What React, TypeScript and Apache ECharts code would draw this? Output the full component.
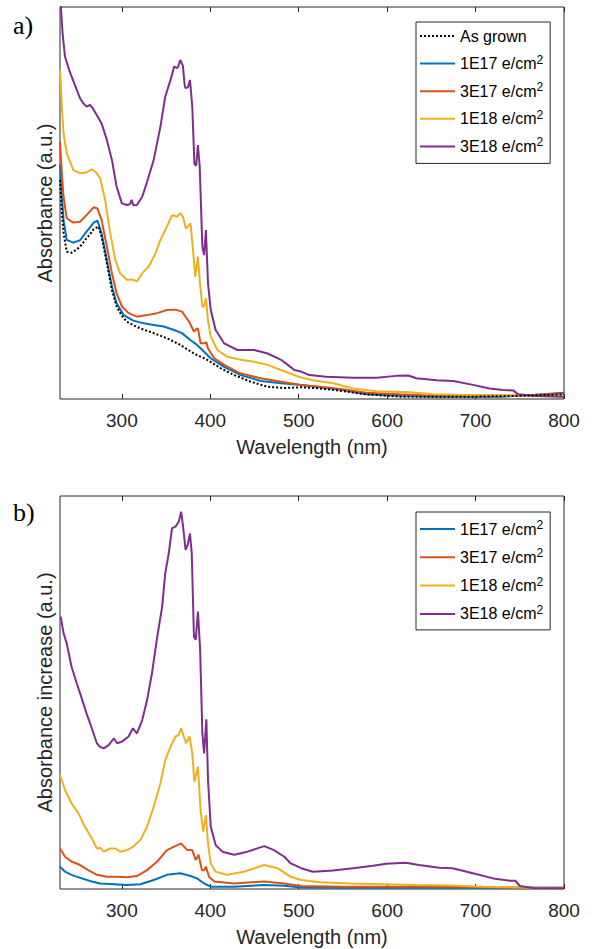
import React, { useEffect, useRef } from "react";
import * as echarts from "echarts";

// ---------- Data (wavelength nm, arbitrary absorbance units, 0..1 of plot height) ----------
const TICKS = [300, 400, 500, 600, 700, 800];
const NAMES = ["As grown", "1E17 e/cm2", "3E17 e/cm2", "1E18 e/cm2", "3E18 e/cm2"];
const COLORS = ["#000000", "#0072BD", "#D95319", "#EDB120", "#7E2F8E"];

// Panel a) Absorbance
const aAsGrown = [
  [230, 0.559], [232, 0.48], [234, 0.423], [237.6, 0.376], [243, 0.373], [248, 0.38], [252.7, 0.389], [256, 0.398],
  [260, 0.41], [264, 0.42], [268, 0.433], [273.6, 0.44], [277, 0.414], [283, 0.346], [288.7, 0.278], [294, 0.236],
  [300, 0.212], [305.7, 0.197], [313, 0.188], [321, 0.18], [336, 0.168], [351, 0.155], [366, 0.138],
  [381.5, 0.116], [396.6, 0.1], [412, 0.078], [427, 0.061], [446, 0.044], [465, 0.031], [484, 0.028],
  [502.7, 0.03], [524, 0.027], [550, 0.02], [576, 0.012], [614, 0.006], [650, 0.006], [700, 0.006],
  [750, 0.008], [800, 0.012]
];
const a1E17 = [
  [230, 0.597], [232, 0.52], [234, 0.457], [237.6, 0.406], [245, 0.399], [252.7, 0.405], [260, 0.427],
  [264, 0.438], [268, 0.45], [272.4, 0.455], [277, 0.423], [283, 0.355], [288.7, 0.287], [294, 0.244],
  [302, 0.214], [313, 0.2], [324.7, 0.193], [336, 0.189], [347.4, 0.185], [359, 0.176], [368, 0.168],
  [377.7, 0.15], [385, 0.138], [391, 0.125], [400.5, 0.104], [415.6, 0.082], [434.5, 0.061],
  [457, 0.046], [480, 0.04], [502.7, 0.036], [524, 0.03], [550, 0.023], [576.6, 0.012], [614, 0.008],
  [652, 0.006], [727.5, 0.006], [765, 0.01], [800, 0.016]
];
const a3E17 = [
  [230, 0.656], [232, 0.58], [234, 0.516], [237.6, 0.461], [245, 0.45], [252.7, 0.452], [260, 0.469],
  [268, 0.489], [272.4, 0.486], [277, 0.457], [283, 0.389], [288.7, 0.321], [294, 0.27], [300, 0.236],
  [307.6, 0.219], [317, 0.21], [328.5, 0.214], [339.8, 0.219], [351, 0.227], [360.7, 0.228],
  [368, 0.223], [376, 0.197], [381.5, 0.172], [384, 0.178], [386, 0.18], [389, 0.142], [393.6, 0.142],
  [395.5, 0.145], [397.4, 0.129], [404.5, 0.104], [415.6, 0.087], [434.5, 0.065], [457, 0.053],
  [480, 0.044], [502.7, 0.036], [524, 0.031], [550, 0.025], [576.6, 0.016], [614, 0.012],
  [652, 0.0085], [690, 0.008], [727.5, 0.008], [765, 0.01], [800, 0.014]
];
const a1E18 = [
  [230, 0.839], [232, 0.75], [234, 0.678], [237.6, 0.627], [245, 0.584], [252.7, 0.576], [260, 0.578],
  [266, 0.586], [271.7, 0.576], [275.5, 0.563], [281, 0.508], [286.8, 0.423], [292.5, 0.355],
  [298, 0.321], [305.7, 0.304], [313, 0.304], [317, 0.3], [323, 0.321], [330.5, 0.338], [338, 0.372],
  [343.6, 0.406], [349, 0.431], [357, 0.469], [362.6, 0.465], [366, 0.474], [369, 0.465],
  [372.4, 0.435], [374.7, 0.44], [377.7, 0.448], [380.7, 0.372], [383, 0.312], [386, 0.363],
  [388, 0.304], [391, 0.236], [393, 0.236], [395, 0.257], [397.4, 0.2], [400.5, 0.159],
  [408, 0.125], [419, 0.108], [434.5, 0.1], [449.7, 0.095], [464.8, 0.087], [480, 0.074],
  [495, 0.061], [502.7, 0.055], [516, 0.048], [539, 0.04], [561.5, 0.027], [588, 0.02],
  [625.7, 0.017], [652, 0.012], [690, 0.01], [727.5, 0.01], [757.7, 0.0077], [800, 0.006]
];
const a3E18 = [
  [230, 1.05], [231, 1.0], [233, 0.93], [235.7, 0.873], [241, 0.835], [247, 0.8], [252.7, 0.767],
  [256, 0.755], [260, 0.746], [264, 0.75], [267, 0.742], [271.7, 0.724], [277, 0.703], [283, 0.661],
  [288.7, 0.61], [294, 0.542], [300, 0.499], [305.7, 0.495], [309, 0.497], [311, 0.508], [313, 0.494],
  [317, 0.495], [323, 0.516], [328.5, 0.554], [336, 0.61], [343.6, 0.695], [349, 0.771], [355, 0.814],
  [357, 0.83], [359, 0.848], [362.6, 0.844], [364, 0.85], [366, 0.865], [369, 0.85], [371, 0.8],
  [372, 0.793], [374.7, 0.795], [377, 0.814], [379.6, 0.746], [382, 0.6], [384, 0.595], [386, 0.648],
  [388, 0.593], [391, 0.389], [393, 0.367], [395, 0.431], [397.4, 0.295], [400.5, 0.227], [406, 0.176],
  [415.6, 0.142], [430.7, 0.125], [449.7, 0.125], [464.8, 0.116], [480, 0.1], [487.6, 0.087],
  [495, 0.074], [502.7, 0.07], [512, 0.061], [531, 0.057], [561.5, 0.054], [588, 0.054],
  [610.6, 0.059], [624, 0.06], [633, 0.053], [656, 0.048], [675, 0.046], [697, 0.036], [716, 0.027],
  [731, 0.023], [742.6, 0.022], [748, 0.012], [765, 0.0085], [800, 0.006]
];

// Panel b) Absorbance increase
const b1E17 = [
  [230, 0.057], [235.7, 0.044], [243, 0.036], [254.6, 0.027], [266, 0.019], [275.5, 0.014],
  [290.9, 0.012], [305.7, 0.01], [321, 0.012], [336, 0.023], [351, 0.036], [366, 0.04],
  [377.7, 0.033], [385, 0.027], [393, 0.014], [400.5, 0.006], [427, 0.006], [461, 0.01],
  [484, 0.008], [502.7, 0.004], [550, 0.003], [650, 0.003], [750, 0.003], [800, 0.003]
];
const b3E17 = [
  [230, 0.103], [235.7, 0.082], [243, 0.07], [252.7, 0.061], [262, 0.048], [271.7, 0.036],
  [283, 0.031], [294, 0.031], [305.7, 0.03], [317, 0.033], [328.5, 0.048], [340, 0.07], [351, 0.099],
  [359, 0.108], [367, 0.116], [374, 0.099], [379.6, 0.099], [383.5, 0.074], [386.7, 0.087],
  [390.5, 0.048], [393, 0.048], [395, 0.057], [398.6, 0.031], [404.5, 0.019], [427, 0.014],
  [461, 0.019], [483.7, 0.014], [502.7, 0.0076], [550, 0.006], [600, 0.006], [680, 0.006],
  [740, 0.004], [800, 0.003]
];
const b1E18 = [
  [230, 0.29], [235.7, 0.252], [243, 0.218], [250.8, 0.193], [258, 0.159], [266, 0.129],
  [271.7, 0.103], [275.5, 0.105], [279.5, 0.095], [286.8, 0.103], [292.5, 0.103], [298, 0.095],
  [305.7, 0.099], [313, 0.108], [321, 0.125], [328.5, 0.159], [336, 0.21], [343.6, 0.269],
  [349, 0.328], [355, 0.362], [360.6, 0.388], [364.4, 0.392], [367, 0.409], [370, 0.388],
  [372.7, 0.371], [376.5, 0.388], [379.6, 0.345], [382, 0.273], [386, 0.311], [389, 0.201],
  [392, 0.146], [395, 0.188], [397.4, 0.116], [400.5, 0.065], [406, 0.044], [419, 0.036],
  [438, 0.044], [461, 0.061], [476, 0.053], [491, 0.031], [502.7, 0.023], [524, 0.017],
  [558, 0.014], [595.5, 0.012], [633, 0.01], [671, 0.009], [709, 0.006], [746.8, 0.004], [800, 0.002]
];
const b3E18 = [
  [230.8, 0.693], [234, 0.651], [237.6, 0.625], [243, 0.566], [249, 0.523], [254.6, 0.485],
  [260, 0.447], [266, 0.409], [271.7, 0.371], [275, 0.362], [279.5, 0.358], [285, 0.366],
  [290.9, 0.383], [294.6, 0.371], [300, 0.375], [307.6, 0.388], [312.5, 0.409], [317, 0.396],
  [323, 0.43], [328.5, 0.481], [334, 0.549], [340, 0.642], [345.5, 0.718], [349, 0.803], [353, 0.854],
  [356.7, 0.918], [360.6, 0.922], [364.4, 0.935], [367, 0.96], [369, 0.926], [372, 0.863],
  [374.5, 0.876], [377, 0.905], [379, 0.854], [381.5, 0.642], [383.5, 0.634], [386, 0.706],
  [388.5, 0.608], [391, 0.396], [393, 0.345], [395.5, 0.432], [397.4, 0.277], [400.5, 0.159],
  [406, 0.112], [413.6, 0.095], [427, 0.087], [442, 0.095], [461, 0.109], [472, 0.099],
  [483.7, 0.082], [491, 0.065], [502.7, 0.053], [516, 0.044], [539, 0.047], [561.5, 0.053],
  [584, 0.059], [599, 0.064], [621, 0.067], [636, 0.061], [659, 0.054], [674, 0.053], [697, 0.04],
  [720, 0.027], [739, 0.021], [745, 0.021], [750, 0.0076], [765, 0.0025], [800, 0.002]
];

const A_SERIES = [aAsGrown, a1E17, a3E17, a1E18, a3E18];
const B_SERIES = [b1E17, b3E17, b1E18, b3E18];

const FONT = '"Liberation Sans", Arial, Helvetica, sans-serif';
const SERIF = '"Liberation Serif", "DejaVu Serif", serif';
const AX = "#262626";

function legendFmt(name: string) {
  if (name.endsWith("cm2")) return name.slice(0, -1) + "{sup|2}";
  return "{n|" + name + "}";
}

export default function App() {
  const ref = useRef<HTMLDivElement>(null);
  useEffect(() => {
    if (!ref.current) return;
    const chart = echarts.init(ref.current, null, { renderer: "svg" });

    const xCommon = (gridIndex: number, top: boolean) => ({
      type: "value",
      gridIndex,
      position: top ? "top" : "bottom",
      min: 230,
      max: 800,
      axisLine: { show: false },
      splitLine: { show: false },
      axisTick: {
        show: true,
        inside: true,
        length: 5,
        lineStyle: { color: AX, width: 1 },
        customValues: TICKS,
      },
      axisLabel: top
        ? { show: false }
        : { show: true, customValues: TICKS, margin: 12, fontSize: 19, color: AX, fontFamily: FONT },
      name: top ? "" : "Wavelength (nm)",
      nameLocation: "middle",
      nameGap: 38,
      nameTextStyle: { fontSize: 20, color: AX, fontFamily: FONT },
    });

    const yCommon = (gridIndex: number, name: string) => ({
      type: "value",
      gridIndex,
      min: 0,
      max: 1,
      axisLine: { show: false },
      axisTick: { show: false },
      axisLabel: { show: false },
      splitLine: { show: false },
      name,
      nameLocation: "middle",
      nameGap: 5,
      nameTextStyle: { fontSize: 20, color: AX, fontFamily: FONT },
    });

    const legendCommon = {
      orient: "vertical",
      left: 416,
      itemWidth: 35,
      itemHeight: 14,
      selectedMode: false,
      borderColor: AX,
      borderWidth: 1,
      backgroundColor: "#fff",
      formatter: legendFmt,
      itemStyle: { opacity: 0 },
      textStyle: {
        fontSize: 16,
        lineHeight: 16,
        color: "#000",
        fontFamily: FONT,
        rich: {
          sup: { fontSize: 12, lineHeight: 12, padding: [0, 0, 8, 0], color: "#000", fontFamily: FONT },
          n: { fontSize: 16, lineHeight: 16, padding: [2, 0, 2, 0], color: "#000", fontFamily: FONT },
        },
      },
    };

    const series: any[] = [];
    A_SERIES.forEach((d, i) => {
      series.push({
        type: "line",
        name: NAMES[i],
        xAxisIndex: 0,
        yAxisIndex: 0,
        data: d,
        symbol: "none",
        smooth: false,
        clip: true,
        z: i === 0 ? 3 : 2,
        lineStyle: { color: COLORS[i], width: 2, type: i === 0 ? [2, 2] : "solid" },
        itemStyle: { color: COLORS[i] },
      });
    });
    B_SERIES.forEach((d, i) => {
      series.push({
        type: "line",
        name: NAMES[i + 1],
        xAxisIndex: 2,
        yAxisIndex: 1,
        data: d,
        symbol: "none",
        smooth: false,
        clip: true,
        lineStyle: { color: COLORS[i + 1], width: 2 },
        itemStyle: { color: COLORS[i + 1] },
      });
    });

    chart.setOption({
      animation: false,
      backgroundColor: "#fff",
      grid: [
        { left: 60, top: 7, width: 504, height: 392, show: true, borderColor: AX, borderWidth: 1, backgroundColor: "#fff" },
        { left: 60, top: 496, width: 504, height: 393, show: true, borderColor: AX, borderWidth: 1, backgroundColor: "#fff" },
      ],
      xAxis: [xCommon(0, false), xCommon(0, true), xCommon(1, false), xCommon(1, true)],
      yAxis: [yCommon(0, "Absorbance (a.u.)"), yCommon(1, "Absorbance increase (a.u.)")],
      legend: [
        { ...legendCommon, top: 22, itemGap: 7.6, padding: [4, 7, 7, 3], data: NAMES },
        { ...legendCommon, top: 512, itemGap: 8.3, padding: [7, 7, 6, 3], data: NAMES.slice(1) },
      ],
      graphic: [
        { type: "text", left: 13, top: 12, style: { text: "a)", fontSize: 26, fontFamily: SERIF, fill: "#000" } },
        { type: "text", left: 13, top: 499, style: { text: "b)", fontSize: 26, fontFamily: SERIF, fill: "#000" } },
      ],
      series,
    });
    return () => chart.dispose();
  }, []);
  return <div ref={ref} style={{ position: "fixed", left: 0, top: 0, width: 596, height: 949 }} />;
}
